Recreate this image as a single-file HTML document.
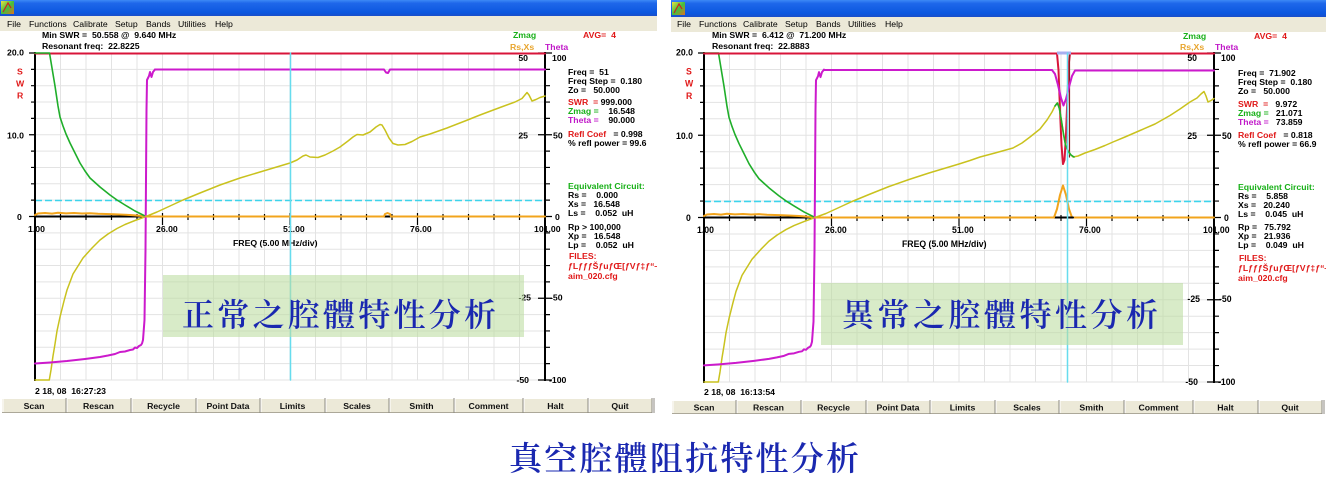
<!DOCTYPE html>
<html><head><meta charset="utf-8">
<style>
html,body{margin:0;padding:0;background:#fff;width:1326px;height:482px;overflow:hidden;}
svg{display:block;}
text{font-family:"Liberation Sans",Arial,sans-serif;white-space:pre;}
.b{font-weight:bold;font-size:8.7px;fill:#000;}
.m{font-size:8.7px;fill:#000;}
.r{fill:#e01818;}
.g{fill:#18b018;}
.p{fill:#c018c8;}
.o{fill:#e8a42c;}
.cjk{font-family:"Liberation Serif","Noto Serif CJK SC",serif;fill:#1a28b0;font-weight:600;}
.bt{font-weight:bold;font-size:8.7px;fill:#111;text-anchor:middle;}
</style></head><body>
<svg width="1326" height="482" viewBox="0 0 1326 482" xmlns="http://www.w3.org/2000/svg">
<defs>
<linearGradient id="tb" x1="0" y1="0" x2="0" y2="1">
<stop offset="0" stop-color="#3d89f6"/><stop offset="0.2" stop-color="#1e67ea"/><stop offset="0.8" stop-color="#0b57df"/><stop offset="1" stop-color="#1a4ec8"/>
</linearGradient>
<linearGradient id="ic" x1="0" y1="0" x2="1" y2="1">
<stop offset="0" stop-color="#f0e040"/><stop offset="0.5" stop-color="#40c040"/><stop offset="1" stop-color="#e07020"/>
</linearGradient>
<clipPath id="clipL"><rect x="0" y="0" width="657" height="482"/></clipPath>
</defs>

<!-- ================= LEFT WINDOW ================= -->
<rect x="0" y="0" width="657" height="16" fill="url(#tb)"/>
<rect x="1" y="1" width="13" height="13" fill="url(#ic)"/>
<path d="M3 12L8 3L11 8" stroke="#d02020" stroke-width="1.2" fill="none"/>
<rect x="0" y="16" width="657" height="15" fill="#ece9d8"/>
<g class="m">
<text x="7" y="27">File</text><text x="29" y="27">Functions</text><text x="73" y="27">Calibrate</text><text x="115" y="27">Setup</text><text x="146" y="27">Bands</text><text x="178" y="27">Utilities</text><text x="215" y="27">Help</text>
</g>
<text class="b" x="42" y="38">Min SWR =  50.558 @  9.640 MHz</text>
<text class="b" x="42" y="49">Resonant freq:  22.8225</text>
<text class="b g" x="513" y="38">Zmag</text>
<text class="b o" x="510" y="50">Rs,Xs</text>
<text class="b p" x="545" y="50">Theta</text>
<text class="b r" x="583" y="38">AVG=  4</text>

<g id="plotL">
<path d="M60.5 53V380M86 53V380M111.5 53V380M137 53V380M162.5 53V380M188 53V380M213.5 53V380M239 53V380M264.5 53V380M290 53V380M315.5 53V380M341 53V380M366.5 53V380M392 53V380M417.5 53V380M443 53V380M468.5 53V380M494 53V380M519.5 53V380M35 69.35H545M35 85.7H545M35 102.05H545M35 118.4H545M35 134.75H545M35 151.1H545M35 167.45H545M35 183.8H545M35 200.15H545M35 232.85H545M35 249.2H545M35 265.55H545M35 281.9H545M35 298.25H545M35 314.6H545M35 330.95H545M35 347.3H545M35 363.65H545M35 380H545" stroke="#e3e3e3" stroke-width="1" fill="none"/>
<path d="M35 200.5H545" stroke="#3cd4ec" stroke-width="1.6" stroke-dasharray="7 3" fill="none"/>
<path d="M35 52V381M545 52V381M35 216.5H545" stroke="#000" stroke-width="2" fill="none"/>
<path d="M29 53H35M31 69.35H35M31 85.7H35M31 102.05H35M31 118.4H35M29 134.75H35M31 151.1H35M31 167.45H35M31 183.8H35M31 200.15H35M29 216.5H35M60.5 214V220M86 214V220M111.5 214V220M137 214V220M188 214V220M213.5 214V220M239 214V220M264.5 214V220M315.5 214V220M341 214V220M366.5 214V220M392 214V220M443 214V220M468.5 214V220M494 214V220M519.5 214V220M162.5 213V225M290 213V225M417.5 213V225M545 69.35H550M545 85.7H550M545 102.05H550M545 118.4H550M545 151.1H550M545 167.45H550M545 183.8H550M545 200.15H550M545 232.85H550M545 249.2H550M545 265.55H550M545 281.9H550M545 314.6H550M545 330.95H550M545 347.3H550M545 363.65H550M538 53H552M538 134.75H552M538 216.5H552M538 298.25H552M538 380H552" stroke="#000" stroke-width="1.2" fill="none"/>
<g class="b">
<text x="7" y="55.5">20.0</text><text x="7" y="138.5">10.0</text><text x="17" y="220">0</text>
<text class="r" x="17" y="74.5">S</text><text class="r" x="16" y="86.5">W</text><text class="r" x="17" y="98.5">R</text>
<text x="552" y="61">100</text><text x="553" y="138.5">50</text><text x="555" y="220">0</text><text x="550" y="300.5">-50</text><text x="549" y="383">-100</text>
<text x="528" y="61" text-anchor="end">50</text><text x="528" y="138.5" text-anchor="end">25</text><text x="531" y="300.5" text-anchor="end">-25</text><text x="529" y="383" text-anchor="end">-50</text>
<text x="28" y="232">1.00</text><text x="156" y="232">26.00</text><text x="283" y="232">51.00</text><text x="410" y="232">76.00</text><text x="534" y="232">101.00</text>
<text x="233" y="246">FREQ (5.00 MHz/div)</text>
</g>
<g fill="none" stroke-linejoin="round" stroke-linecap="round">
<path d="M35 53.5H545" stroke="#d8143a" stroke-width="2"/>
<polyline points="35,215 38,213.5 45,213 52,213.6 58,212.8 66,213.4 74,213 82,213.5 90,213.2 98,213.8 106,214 114,214.3 122,214.6 130,215 138,215.6 146,216.5" stroke="#f2a41c" stroke-width="2"/>
<polyline points="35,53 49.5,53 52,68 55,86 58,106 60,117 63,126 66,134 70,143 75,153 80,163 85,171 90,178 100,187 110,195 117,200 125,205 135,211 146,216.5" stroke="#1fae2a" stroke-width="1.6"/>
<polyline points="35,380 49.3,380 51,370 53,356 55,344 57,331 60,317 64,301 67,290 73,274 83,258 92,248 100,240 108,234 117,228.5 125,224.5 135,220.5 146,216.5" stroke="#c9c21e" stroke-width="1.5"/>
<polyline points="35,363.5 50,362.5 67,361 85,359 100,357 108,355.5 115,354 120,352 125,351.5 130,350 133,349.5 135,347.5 137,348 139,346 141,345 142,343.5 143,340 144.5,320 145.5,250 146,180 146.5,110 147,80 149,76 150,72 151.5,77 153,72 155,69.5" stroke="#cc1acc" stroke-width="2"/>
</g>
</g>

<!-- left specific curves -->
<g fill="none" stroke-linejoin="round" stroke-linecap="round">
<polyline points="146,216.5 384,216.5 385,214 387.5,213 390,214 391,216.5 545,216.5" stroke="#f2a41c" stroke-width="2"/>
<polyline points="146,216.5 157,212 170,206 183,200 200,193 220,185 240,178 260,172 275,167.5 290,163 297,160 303,156 306,155 310,157 318,157.5 325,155 333,151 340,147 348,141 353,137 357,134.5 363,135 370,132 376,127 380,124.5 382,125 385,130 389,138 393,143.5 398,145 405,144.5 412,141.5 420,137 430,134 447,128 465,121 480,115 500,107.5 515,102 522,98.5 527,92.5 529,95 532,101 536,99.5 540,97.5 545,96" stroke="#c9c21e" stroke-width="1.5"/>
<polyline points="155,69.5 384,69.5 386,72.5 388,73 390,69.5 545,69.5" stroke="#cc1acc" stroke-width="2"/>
<path d="M290.5 53V380" stroke="#66dcee" stroke-width="1.5"/>
</g>

<!-- left info -->
<g class="b" clip-path="url(#clipL)">
<text x="568" y="75">Freq =  51</text>
<text x="568" y="84">Freq Step =  0.180</text>
<text x="568" y="93">Zo =   50.000</text>
<text x="568" y="105"><tspan class="r">SWR  =</tspan> 999.000</text>
<text x="568" y="114"><tspan class="g">Zmag =</tspan>    16.548</text>
<text x="568" y="123"><tspan class="p">Theta =</tspan>    90.000</text>
<text x="568" y="137"><tspan class="r">Refl Coef</tspan>   = 0.998</text>
<text x="568" y="146">% refl power = 99.6</text>
<text class="g" x="568" y="189">Equivalent Circuit:</text>
<text x="568" y="198">Rs =    0.000</text>
<text x="568" y="207">Xs =   16.548</text>
<text x="568" y="216">Ls =    0.052  uH</text>
<text x="568" y="230">Rp &gt; 100,000</text>
<text x="568" y="239">Xp =   16.548</text>
<text x="568" y="248">Lp =    0.052  uH</text>
<text class="r" x="569" y="259">FILES:</text>
<text class="r" x="568" y="269">ƒLƒƒƒŠƒuƒŒ[ƒVƒ‡ƒ“—pc</text>
<text class="r" x="568" y="279">aim_020.cfg</text>
</g>
<text class="b" x="35" y="394">2 18, 08  16:27:23</text>

<!-- left buttons -->
<rect x="2" y="398" width="650" height="15" fill="#ece9d8"/>
<path d="M2 398.5H652" stroke="#fff" stroke-width="1"/>
<path d="M2 412.5H652" stroke="#aca899" stroke-width="1"/>
<path d="M66 398V413M131 398V413M196 398V413M260 398V413M325 398V413M389 398V413M454 398V413M523 398V413M588 398V413M652 398V413M654 398V413" stroke="#8c8a80" stroke-width="1"/>
<path d="M67 399V412M132 399V412M197 399V412M261 399V412M326 399V412M390 399V412M455 399V412M524 399V412M589 399V412M3 399V412" stroke="#fff" stroke-width="1"/>
<g>
<text class="bt" x="34" y="409">Scan</text><text class="bt" x="98.5" y="409">Rescan</text><text class="bt" x="163.5" y="409">Recycle</text><text class="bt" x="228" y="409">Point Data</text><text class="bt" x="292.5" y="409">Limits</text><text class="bt" x="357" y="409">Scales</text><text class="bt" x="421.5" y="409">Smith</text><text class="bt" x="488.5" y="409">Comment</text><text class="bt" x="555.5" y="409">Halt</text><text class="bt" x="620" y="409">Quit</text>
</g>

<!-- left annotation box -->
<rect x="163" y="275" width="361" height="62" fill="#bcdca0" fill-opacity="0.58"/>
<text class="cjk" x="182" y="326" font-size="32" textLength="314" lengthAdjust="spacing">正常之腔體特性分析</text>

<!-- ================= RIGHT WINDOW ================= -->
<rect x="671" y="0" width="655" height="17" fill="url(#tb)"/>
<rect x="672" y="2" width="13" height="13" fill="url(#ic)"/>
<path d="M674 13L679 4L682 9" stroke="#d02020" stroke-width="1.2" fill="none"/>
<rect x="671" y="17" width="655" height="15" fill="#ece9d8"/>
<g class="m">
<text x="677" y="27">File</text><text x="699" y="27">Functions</text><text x="743" y="27">Calibrate</text><text x="785" y="27">Setup</text><text x="816" y="27">Bands</text><text x="848" y="27">Utilities</text><text x="885" y="27">Help</text>
</g>
<text class="b" x="712" y="38">Min SWR =  6.412 @  71.200 MHz</text>
<text class="b" x="712" y="49">Resonant freq:  22.8883</text>
<text class="b g" x="1183" y="39">Zmag</text>
<text class="b o" x="1180" y="50">Rs,Xs</text>
<text class="b p" x="1215" y="50">Theta</text>
<text class="b r" x="1254" y="39">AVG=  4</text>

<g transform="matrix(1,0,0,1.00612,669,-0.324)">
<path d="M60.5 53V380M86 53V380M111.5 53V380M137 53V380M162.5 53V380M188 53V380M213.5 53V380M239 53V380M264.5 53V380M290 53V380M315.5 53V380M341 53V380M366.5 53V380M392 53V380M417.5 53V380M443 53V380M468.5 53V380M494 53V380M519.5 53V380M35 69.35H545M35 85.7H545M35 102.05H545M35 118.4H545M35 134.75H545M35 151.1H545M35 167.45H545M35 183.8H545M35 200.15H545M35 232.85H545M35 249.2H545M35 265.55H545M35 281.9H545M35 298.25H545M35 314.6H545M35 330.95H545M35 347.3H545M35 363.65H545M35 380H545" stroke="#e3e3e3" stroke-width="1" fill="none"/>
<path d="M35 200.5H545" stroke="#3cd4ec" stroke-width="1.6" stroke-dasharray="7 3" fill="none"/>
<path d="M35 52V381M545 52V381M35 216.5H545" stroke="#000" stroke-width="2" fill="none"/>
<path d="M29 53H35M31 69.35H35M31 85.7H35M31 102.05H35M31 118.4H35M29 134.75H35M31 151.1H35M31 167.45H35M31 183.8H35M31 200.15H35M29 216.5H35M60.5 214V220M86 214V220M111.5 214V220M137 214V220M188 214V220M213.5 214V220M239 214V220M264.5 214V220M315.5 214V220M341 214V220M366.5 214V220M392 214V220M443 214V220M468.5 214V220M494 214V220M519.5 214V220M162.5 213V225M290 213V225M417.5 213V225M545 69.35H550M545 85.7H550M545 102.05H550M545 118.4H550M545 151.1H550M545 167.45H550M545 183.8H550M545 200.15H550M545 232.85H550M545 249.2H550M545 265.55H550M545 281.9H550M545 314.6H550M545 330.95H550M545 347.3H550M545 363.65H550M538 53H552M538 134.75H552M538 216.5H552M538 298.25H552M538 380H552" stroke="#000" stroke-width="1.2" fill="none"/>
<g class="b">
<text x="7" y="55.5">20.0</text><text x="7" y="138.5">10.0</text><text x="17" y="220">0</text>
<text class="r" x="17" y="74.5">S</text><text class="r" x="16" y="86.5">W</text><text class="r" x="17" y="98.5">R</text>
<text x="552" y="61">100</text><text x="553" y="138.5">50</text><text x="555" y="220">0</text><text x="550" y="300.5">-50</text><text x="549" y="383">-100</text>
<text x="528" y="61" text-anchor="end">50</text><text x="528" y="138.5" text-anchor="end">25</text><text x="531" y="300.5" text-anchor="end">-25</text><text x="529" y="383" text-anchor="end">-50</text>
<text x="28" y="232">1.00</text><text x="156" y="232">26.00</text><text x="283" y="232">51.00</text><text x="410" y="232">76.00</text><text x="534" y="232">101.00</text>
<text x="233" y="246">FREQ (5.00 MHz/div)</text>
</g>
<g fill="none" stroke-linejoin="round" stroke-linecap="round">
<path d="M35 53.5H545" stroke="#d8143a" stroke-width="2"/>
<polyline points="35,215 38,213.5 45,213 52,213.6 58,212.8 66,213.4 74,213 82,213.5 90,213.2 98,213.8 106,214 114,214.3 122,214.6 130,215 138,215.6 146,216.5" stroke="#f2a41c" stroke-width="2"/>
<polyline points="35,53 49.5,53 52,68 55,86 58,106 60,117 63,126 66,134 70,143 75,153 80,163 85,171 90,178 100,187 110,195 117,200 125,205 135,211 146,216.5" stroke="#1fae2a" stroke-width="1.6"/>
<polyline points="35,380 49.3,380 51,370 53,356 55,344 57,331 60,317 64,301 67,290 73,274 83,258 92,248 100,240 108,234 117,228.5 125,224.5 135,220.5 146,216.5" stroke="#c9c21e" stroke-width="1.5"/>
<polyline points="35,363.5 50,362.5 67,361 85,359 100,357 108,355.5 115,354 120,352 125,351.5 130,350 133,349.5 135,347.5 137,348 139,346 141,345 142,343.5 143,340 144.5,320 145.5,250 146,180 146.5,110 147,80 149,76 150,72 151.5,77 153,72 155,69.5" stroke="#cc1acc" stroke-width="2"/>
</g>
</g>

<!-- right specific curves -->
<g fill="none" stroke-linejoin="round" stroke-linecap="round">
<polyline points="704,53.5 1057,53.5 1058.5,70 1060,110 1061.5,145 1063,164 1064.5,160 1066,135 1067.5,95 1069,62 1070,53.5 1214,53.5" stroke="#d8143a" stroke-width="2"/>
<path d="M1069.5 55V157" stroke="#8a1a1a" stroke-width="1.2"/>
<polyline points="815,217.5 1054,217.5 1057,209 1060,195 1063,185.5 1066,195 1069,209 1072,217.5 1214,217.5" stroke="#f2a41c" stroke-width="2"/>
<path d="M1056 217.5H1073" stroke="#000" stroke-width="2"/>
<polyline points="815,217.5 826,213.5 839,207.5 852,201.5 869,194.5 889,186.5 909,179.5 929,173 944,168.5 959,164 970,160.5 980,157 995,153 1013,148 1022,143 1030,137 1040,129 1047,120 1052,112 1055,106 1057,103 1059,107 1061,118 1063,131 1065,142 1067,149 1070,154 1073,157 1078,156 1085,153 1095,149.5 1105,145.5 1113,142 1125,137 1140,130.5 1155,124 1170,115.5 1180,109 1190,102 1197,98 1201,94 1204,91.5 1206,96 1208,102 1211,100.5 1214,98.5" stroke="#c9c21e" stroke-width="1.5"/>
<polyline points="1055,106 1057.5,103 1059.5,109 1061.5,121 1063.5,134 1065.5,145 1068,151 1071,155 1074,157" stroke="#1fae2a" stroke-width="1.6"/>
<polyline points="824,70 1052,70 1055,74 1058,85 1061,98 1063.5,105.5 1066,99 1069,87 1072,76 1075,70.5 1214,70.5" stroke="#cc1acc" stroke-width="2"/>
<rect x="1057" y="51.5" width="14" height="3" fill="#a8b0f0" stroke="none"/>
<path d="M1067.5 53V382" stroke="#66dcee" stroke-width="1.5"/>
</g>

<!-- right info -->
<g class="b">
<text x="1238" y="76">Freq =  71.902</text>
<text x="1238" y="85">Freq Step =  0.180</text>
<text x="1238" y="94">Zo =   50.000</text>
<text x="1238" y="107"><tspan class="r">SWR  =</tspan>   9.972</text>
<text x="1238" y="116"><tspan class="g">Zmag =</tspan>   21.071</text>
<text x="1238" y="125"><tspan class="p">Theta =</tspan>   73.859</text>
<text x="1238" y="138"><tspan class="r">Refl Coef</tspan>   = 0.818</text>
<text x="1238" y="147">% refl power = 66.9</text>
<text class="g" x="1238" y="190">Equivalent Circuit:</text>
<text x="1238" y="199">Rs =    5.858</text>
<text x="1238" y="208">Xs =   20.240</text>
<text x="1238" y="217">Ls =    0.045  uH</text>
<text x="1238" y="230">Rp =   75.792</text>
<text x="1238" y="239">Xp =   21.936</text>
<text x="1238" y="248">Lp =    0.049  uH</text>
<text class="r" x="1239" y="261">FILES:</text>
<text class="r" x="1238" y="271">ƒLƒƒƒŠƒuƒŒ[ƒVƒ‡ƒ“—pc</text>
<text class="r" x="1238" y="281">aim_020.cfg</text>
</g>
<text class="b" x="704" y="395">2 18, 08  16:13:54</text>

<!-- right buttons -->
<rect x="672" y="400" width="650" height="14" fill="#ece9d8"/>
<path d="M672 400.5H1322" stroke="#fff" stroke-width="1"/>
<path d="M672 413.5H1322" stroke="#aca899" stroke-width="1"/>
<path d="M736 400V414M801 400V414M866 400V414M930 400V414M995 400V414M1059 400V414M1124 400V414M1193 400V414M1258 400V414M1322 400V414M1324 400V414" stroke="#8c8a80" stroke-width="1"/>
<path d="M737 401V413M802 401V413M867 401V413M931 401V413M996 401V413M1060 401V413M1125 401V413M1194 401V413M1259 401V413M673 401V413" stroke="#fff" stroke-width="1"/>
<g>
<text class="bt" x="704" y="410.5">Scan</text><text class="bt" x="768.5" y="410.5">Rescan</text><text class="bt" x="833.5" y="410.5">Recycle</text><text class="bt" x="898" y="410.5">Point Data</text><text class="bt" x="962.5" y="410.5">Limits</text><text class="bt" x="1027" y="410.5">Scales</text><text class="bt" x="1091.5" y="410.5">Smith</text><text class="bt" x="1158.5" y="410.5">Comment</text><text class="bt" x="1225.5" y="410.5">Halt</text><text class="bt" x="1290" y="410.5">Quit</text>
</g>

<!-- right annotation box -->
<rect x="821" y="283" width="362" height="62" fill="#bcdca0" fill-opacity="0.58"/>
<text class="cjk" x="842" y="326" font-size="32" textLength="316" lengthAdjust="spacing">異常之腔體特性分析</text>

<!-- bottom title -->
<text class="cjk" x="509" y="470" font-size="33" textLength="350" lengthAdjust="spacing">真空腔體阻抗特性分析</text>
</svg>
</body></html>
